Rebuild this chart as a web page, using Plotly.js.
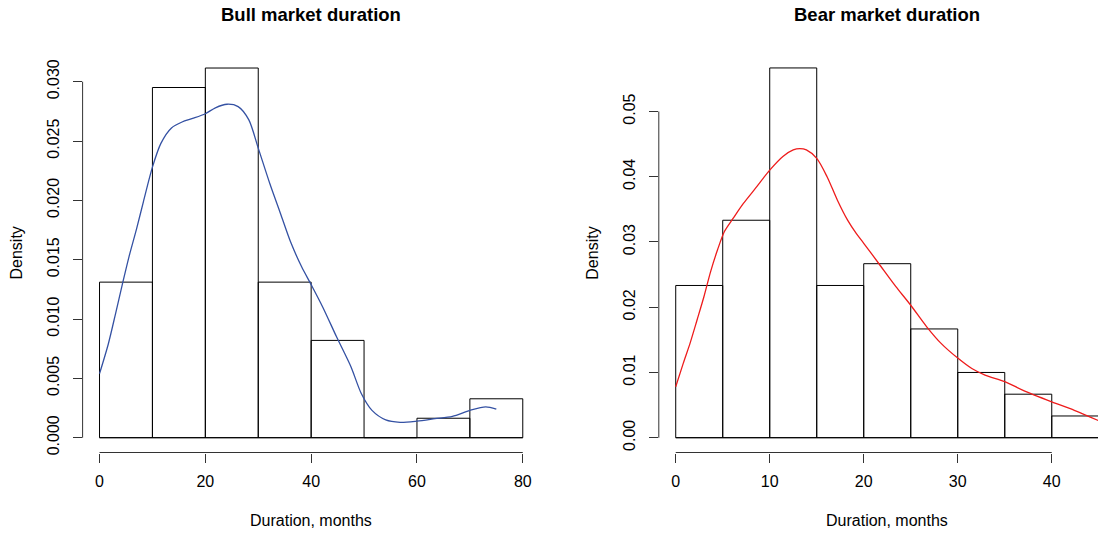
<!DOCTYPE html>
<html>
<head>
<meta charset="utf-8">
<script src="https://cdn.plot.ly/plotly-3.0.1.min.js"></script>
<style>html,body{margin:0;padding:0;background:#fff;}#chart{width:1098px;height:534px;}</style>
</head>
<body>
<div id="chart"></div>
<script>
// ---- data ----
const bullBreaks = [0, 10, 20, 30, 40, 50, 60, 70, 80];
const bullDensity = [0.01311, 0.02951, 0.03115, 0.01311, 0.00820, 0.0, 0.00164, 0.00328];
const bearBreaks = [0, 5, 10, 15, 20, 25, 30, 35, 40, 45];
const bearDensity = [0.02333, 0.03333, 0.05667, 0.02333, 0.02667, 0.01667, 0.01000, 0.00667, 0.00333];

const bullKdeX = [0, 1.66, 3.0, 4.3, 5.6, 7.0, 8.3, 10.0, 11.6, 13.6, 15.6, 17.6, 20.0, 21.9, 24.1, 26.2, 28.2, 30.0, 32.2, 34.2, 36.2, 38.2, 40.0, 42.2, 44.8, 47.5, 49.5, 51.5, 54.1, 56.8, 60.0, 63.4, 66.7, 70.0, 73.0, 75.0];
const bullKdeY = [0.0054, 0.0079, 0.0104, 0.0129, 0.0153, 0.0176, 0.0199, 0.0228, 0.0248, 0.0261, 0.0266, 0.0269, 0.0273, 0.0278, 0.0281, 0.0279, 0.0268, 0.0244, 0.0214, 0.0189, 0.0164, 0.0144, 0.0129, 0.0110, 0.0085, 0.0060, 0.0037, 0.0023, 0.0015, 0.0013, 0.0014, 0.0016, 0.0018, 0.0023, 0.0026, 0.0024];

const bearKdeX = [0, 0.8, 1.53, 2.26, 3.0, 3.72, 4.45, 5.18, 6.1, 7.2, 8.47, 10.0, 11.4, 12.5, 13.2, 13.9, 15.0, 16.1, 17.2, 18.3, 19.2, 20.0, 21.6, 23.4, 25.0, 26.7, 28.2, 30.0, 31.5, 32.9, 35.0, 36.9, 40.0, 42.4, 45.0];
const bearKdeY = [0.0078, 0.0114, 0.0145, 0.0180, 0.0216, 0.0255, 0.0288, 0.0316, 0.0336, 0.0359, 0.0382, 0.0410, 0.0431, 0.0441, 0.0443, 0.0441, 0.0428, 0.0400, 0.0364, 0.0333, 0.0313, 0.0298, 0.0267, 0.0232, 0.0203, 0.0170, 0.0145, 0.0122, 0.0106, 0.0096, 0.0086, 0.0073, 0.0055, 0.0042, 0.0026];

const titles = ["Bull market duration", "Bear market duration"];
const xTitle = "Duration, months";
const yTitle = "Density";

// ---- helpers ----
function mids(b){ const m=[]; for(let i=0;i<b.length-1;i++) m.push((b[i]+b[i+1])/2); return m; }
function widths(b){ const w=[]; for(let i=0;i<b.length-1;i++) w.push(b[i+1]-b[i]); return w; }

const W = 1098, H = 534;
const FONT = "Liberation Sans, Arial, Helvetica, sans-serif";
const AX = '#333';

const traces = [
  {type:'bar', x: mids(bullBreaks), y: bullDensity, width: widths(bullBreaks),
   marker:{color:'rgba(255,255,255,0)', line:{color:'#000', width:1}}, xaxis:'x', yaxis:'y', hoverinfo:'skip'},
  {type:'scatter', mode:'lines', x: bullKdeX, y: bullKdeY, line:{color:'#3451a3', width:1.3, shape:'spline', smoothing:0.8},
   xaxis:'x', yaxis:'y', hoverinfo:'skip'},
  {type:'bar', x: mids(bearBreaks), y: bearDensity, width: widths(bearBreaks),
   marker:{color:'rgba(255,255,255,0)', line:{color:'#000', width:1}}, xaxis:'x2', yaxis:'y2', hoverinfo:'skip'},
  {type:'scatter', mode:'lines', x: bearKdeX, y: bearKdeY, line:{color:'#ee1c1c', width:1.3, shape:'spline', smoothing:0.8},
   xaxis:'x2', yaxis:'y2', hoverinfo:'skip'}
];

const yDom = [(H-452.5)/H, (H-53.2)/H];
const common = {showgrid:false, zeroline:false, showline:false, ticks:'outside', ticklen:9, tickwidth:1, tickcolor:AX,
  tickfont:{family:FONT, size:16, color:'#000'}, fixedrange:true};

const layout = {
  width: W, height: H,
  margin:{l:0, r:0, t:0, b:0},
  paper_bgcolor:'#fff', plot_bgcolor:'#fff',
  showlegend:false, bargap:0,
  font:{family:FONT, color:'#000'},
  xaxis: Object.assign({}, common, {domain:[82.6/W, 539.7/W], range:[-3.2, 83.2], tick0:0, dtick:20, anchor:'y', ticklabelstandoff:5}),
  yaxis: Object.assign({}, common, {domain:yDom, range:[-0.001246, 0.0324], tick0:0, dtick:0.005, tickformat:'.3f', tickangle:-90, anchor:'x', ticklabelstandoff:7}),
  xaxis2: Object.assign({}, common, {domain:[658.8/W, 1], range:[-1.8, 44.92], tick0:0, dtick:10, anchor:'y2', ticklabelstandoff:5}),
  yaxis2: Object.assign({}, common, {domain:yDom, range:[-0.002267, 0.05893], tick0:0, dtick:0.01, tickformat:'.2f', tickangle:-90, anchor:'x2', ticklabelstandoff:7}),
  shapes: [
    // R-style detached axis lines, spanning the tick range
    {type:'line', xref:'x', yref:'y domain', x0:0, x1:80, y0:0, y1:0, line:{color:AX, width:1}},
    {type:'line', xref:'x domain', yref:'y', x0:0, x1:0, y0:0, y1:0.030, line:{color:AX, width:1}},
    {type:'line', xref:'x2', yref:'y2 domain', x0:0, x1:40, y0:0, y1:0, line:{color:AX, width:1}},
    {type:'line', xref:'x2 domain', yref:'y2', x0:0, x1:0, y0:0, y1:0.05, line:{color:AX, width:1}},
    // histogram baselines
    {type:'line', xref:'x', yref:'y', x0:bullBreaks[0], x1:bullBreaks[bullBreaks.length-1], y0:0, y1:0, line:{color:'#000', width:1}},
    {type:'line', xref:'x2', yref:'y2', x0:bearBreaks[0], x1:bearBreaks[bearBreaks.length-1], y0:0, y1:0, line:{color:'#000', width:1}}
  ],
  annotations: [
    {text:'<b>'+titles[0]+'</b>', xref:'paper', yref:'paper', x:311.1/W, y:(H-15)/H, xanchor:'center', yanchor:'middle', showarrow:false, font:{family:FONT, size:18.5}},
    {text:'<b>'+titles[1]+'</b>', xref:'paper', yref:'paper', x:887.2/W, y:(H-15)/H, xanchor:'center', yanchor:'middle', showarrow:false, font:{family:FONT, size:18.5}},
    {text:xTitle, xref:'paper', yref:'paper', x:311.1/W, y:(H-520)/H, xanchor:'center', yanchor:'middle', showarrow:false, font:{family:FONT, size:16}},
    {text:xTitle, xref:'paper', yref:'paper', x:887.2/W, y:(H-520)/H, xanchor:'center', yanchor:'middle', showarrow:false, font:{family:FONT, size:16}},
    {text:yTitle, xref:'paper', yref:'paper', x:16.6/W, y:(H-252.9)/H, xanchor:'center', yanchor:'middle', textangle:-90, showarrow:false, font:{family:FONT, size:16}},
    {text:yTitle, xref:'paper', yref:'paper', x:592.8/W, y:(H-252.9)/H, xanchor:'center', yanchor:'middle', textangle:-90, showarrow:false, font:{family:FONT, size:16}}
  ]
};

Plotly.newPlot('chart', traces, layout, {displayModeBar:false, staticPlot:true});
</script>
</body>
</html>
